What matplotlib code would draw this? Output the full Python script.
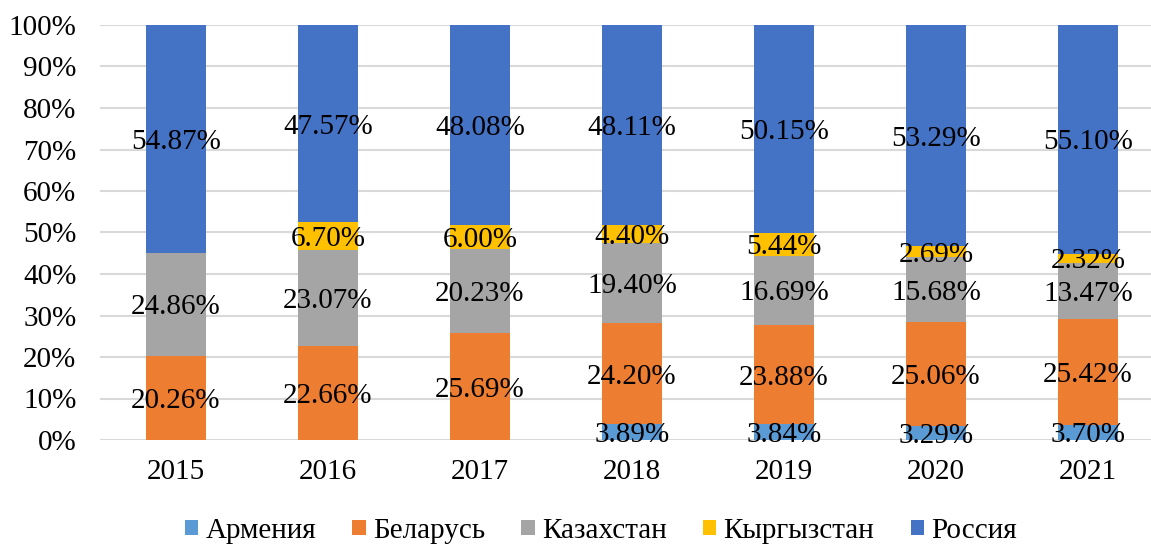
import numpy as np
import matplotlib.pyplot as plt

plt.rcParams['font.family'] = ['Liberation Serif', 'DejaVu Serif']

years = ['2015', '2016', '2017', '2018', '2019', '2020', '2021']
armenia = [0, 0, 0, 3.89, 3.84, 3.29, 3.70]
belarus = [20.26, 22.66, 25.69, 24.20, 23.88, 25.06, 25.42]
kazakhstan = [24.86, 23.07, 20.23, 19.40, 16.69, 15.68, 13.47]
kyrgyzstan = [0, 6.70, 6.00, 4.40, 5.44, 2.69, 2.32]
russia = [54.87, 47.57, 48.08, 48.11, 50.15, 53.29, 55.10]

series = [
    ('Армения', armenia, '#5B9BD5'),
    ('Беларусь', belarus, '#ED7D31'),
    ('Казахстан', kazakhstan, '#A5A5A5'),
    ('Кыргызстан', kyrgyzstan, '#FFC000'),
    ('Россия', russia, '#4472C4'),
]

fig = plt.figure(figsize=(11.51, 5.44), dpi=100)
ax = fig.add_axes([100 / 1151, 104 / 544, 1064 / 1151, 415 / 544])

x = np.arange(len(years))
bottom = np.zeros(len(years))
for name, vals, color in series:
    vals = np.array(vals, dtype=float)
    ax.bar(x, vals, 0.4, bottom=bottom, color=color, label=name, zorder=2)
    for xi, b, v in zip(x, bottom, vals):
        if v > 0:
            ax.text(xi, b + v / 2, f'{v:.2f}%', ha='center', va='center_baseline',
                    fontsize=21, color='black', zorder=3)
    bottom += vals

ax.set_xlim(-0.5, len(years) - 0.5)
ax.set_ylim(0, 100)
ax.set_yticks(np.arange(0, 101, 10))
ax.set_yticklabels([f'{v}%' for v in range(0, 101, 10)])
ax.set_xticks(x)
ax.set_xticklabels(years)
ax.tick_params(axis='both', length=0, labelsize=21)
ax.tick_params(axis='y', pad=17)
ax.tick_params(axis='x', pad=14)
ax.yaxis.grid(True, color='#D9D9D9', linewidth=1.5, zorder=0)
ax.set_axisbelow(True)
for s in ax.spines.values():
    s.set_visible(False)

fig.legend(loc='lower center', bbox_to_anchor=(0.522, -0.048), ncol=5,
           frameon=False, fontsize=21, handlelength=0.45, handleheight=0.45,
           handletextpad=0.25, columnspacing=1.25)

fig.savefig('out.png', dpi=100)
